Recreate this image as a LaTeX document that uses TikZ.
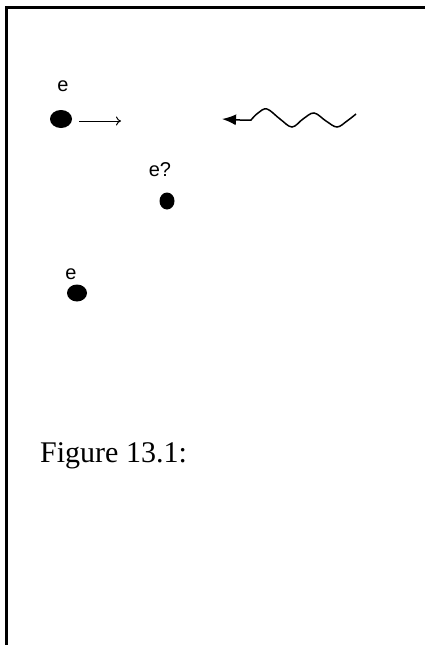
\documentclass[tikz,border=0pt]{standalone}
\usepackage{fontspec}
\setmainfont{Liberation Serif}
\newfontfamily\labfont{Liberation Sans}
\usetikzlibrary{arrows.meta}
\begin{document}
\begin{tikzpicture}[x=1pt,y=1pt,
  frameline/.style={line width=3pt,line cap=rect},
  dotshape/.style={fill=black,draw=none},
  lab/.style={font=\labfont\fontsize{20}{20}\selectfont,inner sep=0pt},
  thinarrow/.style={line width=1pt,-{To[length=5pt,width=9pt]}},
  wave/.style={line width=1.5pt,-{Latex[length=14pt,width=11pt]}}]
\useasboundingbox (0,0) rectangle (425,-645);
\fill[white] (0,0) rectangle (425,-645);
\draw[frameline] (6,-645) -- (6,-7) -- (425,-7);
% electron 1
\node[lab] (e1) at (63,-86) {e};
\fill[dotshape] (61,-119) ellipse [x radius=11, y radius=9];
\coordinate (d1) at (61,-119);
\coordinate (a1s) at (79,-121);
\coordinate (a1e) at (121,-121);
\draw[thinarrow] (a1s) -- (a1e);
% photon
\coordinate (ws) at (356,-114);
\coordinate (wt) at (222,-119);
\draw[wave] plot[smooth,tension=0.6] coordinates {(356,-114) (347,-121) (337,-127)
  (326,-121) (314,-113) (303,-119) (292,-127) (280,-119) (267,-109) (258,-113) (251,-120)}
  -- (240,-120) -- (wt);
% electron ?
\node[lab] (e2) at (160,-170) {e?};
\fill[dotshape] (167,-201) ellipse [x radius=7.5, y radius=8.5];
% electron 3
\node[lab] (e3) at (71,-274) {e};
\fill[dotshape] (77,-293) ellipse [x radius=10, y radius=8.5];
% caption
\node[anchor=base west,inner sep=0pt,font=\fontsize{30}{30}\selectfont] (cap) at (40,-462) {Figure 13.1:};
\end{tikzpicture}
\end{document}
